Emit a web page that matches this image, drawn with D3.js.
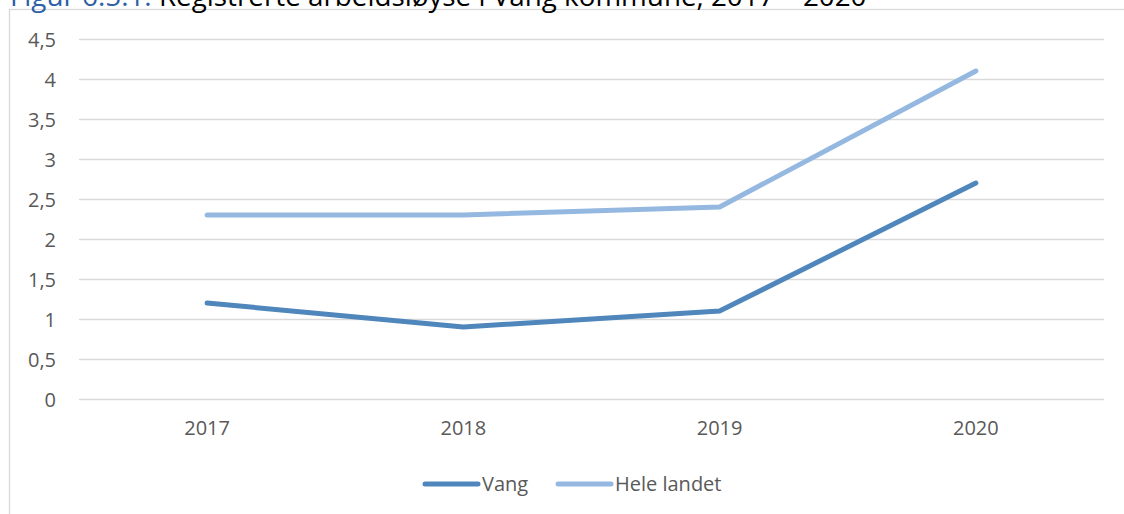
<!DOCTYPE html>
<html>
<meta charset="utf-8">
<script src="https://d3js.org/d3.v7.min.js"></script>
<style>
body{
  margin: 0;
  background: white;
}
.tick text{
  font-family: "Open Sans", sans-serif;
  font-size: 20px;
  fill: #595959;
}
.grid line{
  stroke: #d9d9d9;
  stroke-width: 1.3;
}
</style>
<body>
<div id="chart"></div>
<script>
// data
var years = ["2017", "2018", "2019", "2020"];
var vang = [1.2, 0.9, 1.1, 2.7];
var heleLandet = [2.3, 2.3, 2.4, 4.1];
var yTicks = [0, 0.5, 1, 1.5, 2, 2.5, 3, 3.5, 4, 4.5];
var seriesNames = ["Vang", "Hele landet"];
var seriesCols = ["#4f86bb", "#95b8e0"];

var width = 1124, height = 514;

var svg = d3.select("#chart").append("svg")
  .attr("width", width).attr("height", height);

// chart frame (only left and top edges are visible)
svg.append("rect")
  .attr("x", 9.5).attr("y", 9.5)
  .attr("width", 1130).attr("height", 520)
  .style("fill", "white")
  .style("stroke", "#d9d9d9")
  .style("stroke-width", 1.3);

// title, cut off at the top like in the page it came from
var title = svg.append("text")
  .attr("x", 10).attr("y", 6)
  .style("font-family", "Open Sans, sans-serif")
  .style("font-size", "27.8px");
title.append("tspan").style("fill", "#2e5fa8").text("Figur 6.5.1: ");
title.append("tspan").style("fill", "#000").text("Registrerte arbeidsløyse i Vang kommune, 2017 – 2020");

var x = d3.scaleBand().domain(years).range([79, 1104]);
var y = d3.scaleLinear().domain([0, 4.5]).range([399, 39]);

// gridlines + y labels
var yAxis = svg.append("g")
  .attr("class", "grid")
  .attr("transform", "translate(79,0)")
  .call(d3.axisLeft(y).tickValues(yTicks)
    .tickSize(-1025)
    .tickPadding(23)
    .tickFormat(function(d){ return String(d).replace(".", ","); }));
yAxis.select(".domain").remove();
yAxis.selectAll("text").attr("dy", "0.35em");

var xAxis = svg.append("g")
  .attr("transform", "translate(0,399)")
  .call(d3.axisBottom(x).tickSize(0).tickPadding(22));
xAxis.select(".domain").remove();

var line = d3.line()
  .x(function(d, i){ return x(years[i]) + x.bandwidth() / 2; })
  .y(function(d){ return y(d); });

[vang, heleLandet].forEach(function(s, i){
  svg.append("path")
    .datum(s)
    .attr("d", line)
    .style("fill", "none")
    .style("stroke", seriesCols[i])
    .style("stroke-width", 5)
    .style("stroke-linecap", "round")
    .style("stroke-linejoin", "round");
});

// legend
var legendX = [425, 558];
seriesNames.forEach(function(n, i){
  var g = svg.append("g").attr("transform", "translate(" + legendX[i] + ",484)");
  g.append("line")
    .attr("x1", 0).attr("x2", 53)
    .style("stroke", seriesCols[i])
    .style("stroke-width", 5)
    .style("stroke-linecap", "round");
  g.append("text")
    .attr("x", 57).attr("dy", "0.35em")
    .style("font-family", "Open Sans, sans-serif")
    .style("font-size", "20px")
    .style("fill", "#595959")
    .text(n);
});
</script>
</body>
</html>
